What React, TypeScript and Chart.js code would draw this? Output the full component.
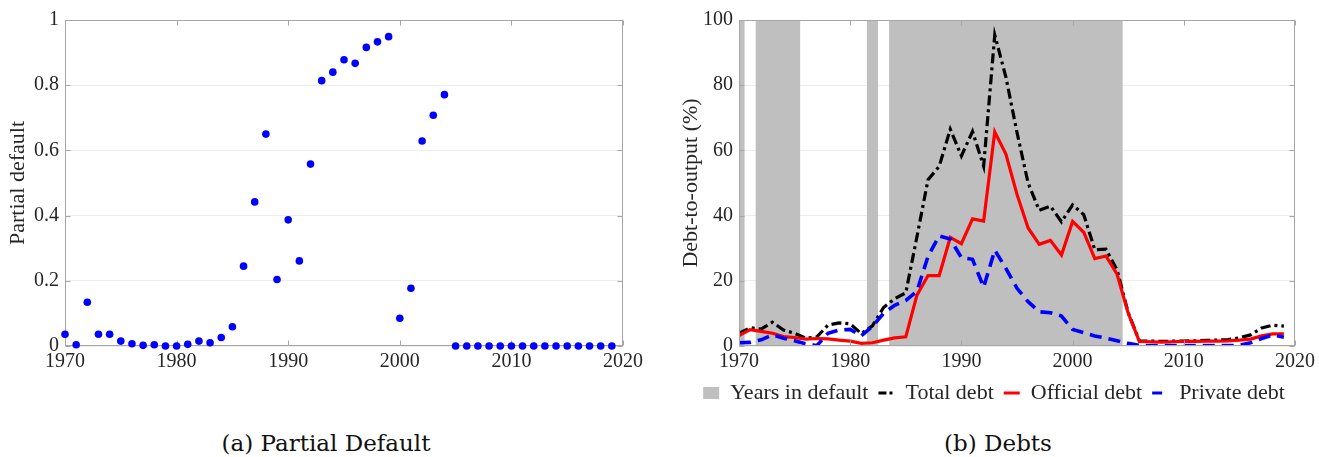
import React, { useEffect, useRef } from 'react';
import { Chart, registerables } from 'chart.js';

Chart.register(...registerables);

// ---------------- data ----------------
const YEARS = [
  1970, 1971, 1972, 1973, 1974, 1975, 1976, 1977, 1978, 1979,
  1980, 1981, 1982, 1983, 1984, 1985, 1986, 1987, 1988, 1989,
  1990, 1991, 1992, 1993, 1994, 1995, 1996, 1997, 1998, 1999,
  2000, 2001, 2002, 2003, 2004, 2005, 2006, 2007, 2008, 2009,
  2010, 2011, 2012, 2013, 2014, 2015, 2016, 2017, 2018, 2019,
];

const PARTIAL_DEFAULT = [
  0.036, 0.004, 0.134, 0.036, 0.036, 0.015, 0.007, 0.002, 0.004, 0.0,
  0.0, 0.005, 0.015, 0.01, 0.026, 0.059, 0.245, 0.442, 0.65, 0.204,
  0.387, 0.261, 0.558, 0.814, 0.84, 0.878, 0.867, 0.916, 0.933, 0.949,
  0.085, 0.177, 0.629, 0.708, 0.771, 0.0, 0.0, 0.0, 0.0, 0.0,
  0.0, 0.0, 0.0, 0.0, 0.0, 0.0, 0.0, 0.0, 0.0, 0.0,
];

const TOTAL_DEBT = [
  3.9, 5.6, 5.2, 7.3, 4.9, 3.9, 2.4, 2.8, 6.4, 7.1,
  6.8, 3.8, 6.2, 11.8, 14.5, 16.3, 33.5, 51.0, 55.1, 66.5,
  58.3, 65.8, 55.2, 95.4, 82.5, 65.5, 50.0, 41.6, 42.9, 38.1,
  43.3, 40.3, 29.5, 29.7, 23.3, 10.2, 1.6, 1.5, 1.4, 1.5,
  1.5, 1.6, 1.7, 1.8, 2.0, 2.5, 3.4, 5.5, 6.4, 6.1,
];

const OFFICIAL_DEBT = [
  3.2, 5.0, 4.5, 3.9, 2.9, 2.6, 2.1, 2.3, 2.2, 1.8,
  1.5, 0.8, 1.0, 1.8, 2.5, 2.8, 15.6, 21.6, 21.6, 33.3,
  31.4, 39.0, 38.3, 65.7, 58.9, 46.5, 36.2, 31.2, 32.4, 27.9,
  38.2, 34.9, 26.8, 27.6, 22.0, 10.1, 1.4, 1.3, 1.2, 1.3,
  1.4, 1.4, 1.5, 1.5, 1.6, 1.8, 2.1, 3.1, 3.7, 3.7,
];

const PRIVATE_DEBT = [
  1.0, 1.1, 1.9, 3.4, 2.4, 1.6, 0.7, 0.1, 3.9, 4.9,
  5.1, 3.1, 6.0, 10.0, 12.5, 14.0, 16.8, 27.5, 33.8, 32.8,
  27.1, 26.6, 18.0, 29.4, 23.8, 17.7, 13.6, 10.5, 10.2, 9.2,
  5.1, 4.1, 3.1, 2.4, 1.6, 0.8, 0.2, 0.1, 0.1, 0.1,
  0.1, 0.1, 0.1, 0.1, 0.1, 0.2, 1.0, 2.3, 3.4, 2.7,
];

const DEFAULT_YEARS = [
  1970, 1972, 1973, 1974, 1975, 1982,
  1984, 1985, 1986, 1987, 1988, 1989, 1990, 1991, 1992, 1993, 1994,
  1995, 1996, 1997, 1998, 1999, 2000, 2001, 2002, 2003, 2004,
];

const X_TICKS = [1970, 1980, 1990, 2000, 2010, 2020];
const PD_TICKS = [0, 0.2, 0.4, 0.6, 0.8, 1];
const DEBT_TICKS = [0, 20, 40, 60, 80, 100];

const PD_LABEL = 'Partial default';
const DEBT_LABEL = 'Debt-to-output (%)';
const LEGEND_LABELS = ['Years in default', 'Total debt', 'Official debt', 'Private debt'];
const CAPTION_A = '(a) Partial Default';
const CAPTION_B = '(b) Debts';

// ---------------- styles ----------------
const SERIF = "'Liberation Serif', 'Times New Roman', serif";
const TEXT_COLOR = '#262626';
const FRAME_COLOR = '#a6a6a6';
const GRID_COLOR = '#ededed';
const SHADE_COLOR = '#bfbfbf';

function framePlugin(id: string, onTop: boolean) {
  const draw = (chart: any) => {
    const { ctx, chartArea } = chart;
    const { left, right, top, bottom } = chartArea;
    const xs = chart.scales.x;
    const ys = chart.scales.y;
    ctx.save();
    ctx.strokeStyle = FRAME_COLOR;
    ctx.lineWidth = 1;
    ctx.setLineDash([]);
    const L = Math.round(left) + 0.5;
    const R = Math.round(right) - 0.5;
    const T = Math.round(top) + 0.5;
    const B = Math.round(bottom) - 0.5;
    ctx.strokeRect(L, T, R - L, B - T);
    const len = 5;
    ctx.beginPath();
    xs.ticks.forEach((t: any) => {
      const px = Math.round(xs.getPixelForValue(t.value)) + 0.5;
      ctx.moveTo(px, T);
      ctx.lineTo(px, T + len);
      ctx.moveTo(px, B);
      ctx.lineTo(px, B - len);
    });
    ys.ticks.forEach((t: any) => {
      const py = Math.round(ys.getPixelForValue(t.value)) + 0.5;
      ctx.moveTo(L, py);
      ctx.lineTo(L + len, py);
      ctx.moveTo(R, py);
      ctx.lineTo(R - len, py);
    });
    ctx.stroke();
    ctx.restore();
  };
  return onTop ? { id, afterDatasetsDraw: draw } : { id, beforeDatasetsDraw: draw };
}

const tickFont = { family: SERIF, size: 20 };
const titleFont = { family: SERIF, size: 22 };

function xScale(height: number) {
  return {
    type: 'linear' as const,
    min: 1970,
    max: 2020,
    afterBuildTicks: (axis: any) => {
      axis.ticks = X_TICKS.map((value) => ({ value }));
    },
    afterFit: (axis: any) => {
      axis.height = height;
    },
    grid: { display: false, drawTicks: false },
    border: { display: false },
    ticks: {
      font: tickFont,
      color: TEXT_COLOR,
      padding: 4,
      maxRotation: 0,
      autoSkip: false,
      callback: (v: any) => String(v),
    },
  };
}

function PartialDefaultChart() {
  const ref = useRef<HTMLCanvasElement>(null);
  useEffect(() => {
    const chart = new Chart(ref.current as HTMLCanvasElement, {
      type: 'scatter',
      data: {
        datasets: [
          {
            label: PD_LABEL,
            data: YEARS.map((yr, i) => ({ x: yr, y: PARTIAL_DEFAULT[i] })),
            backgroundColor: '#0000ff',
            borderColor: '#0000ff',
            pointRadius: 3.8,
            pointBorderWidth: 0,
            clip: false,
          } as any,
        ],
      },
      options: {
        animation: false,
        responsive: false,
        maintainAspectRatio: false,
        layout: { padding: { top: 20, right: 37, bottom: 0, left: 0 } },
        plugins: { legend: { display: false }, tooltip: { enabled: false } },
        scales: {
          x: xScale(34) as any,
          y: {
            type: 'linear',
            min: 0,
            max: 1,
            afterBuildTicks: (axis: any) => {
              axis.ticks = PD_TICKS.map((value) => ({ value }));
            },
            afterFit: (axis: any) => {
              axis.width = 65;
            },
            grid: { color: GRID_COLOR, drawTicks: false, lineWidth: 1 },
            border: { display: false },
            ticks: {
              font: tickFont,
              color: TEXT_COLOR,
              padding: 6,
              callback: (v: any) => String(Math.round(Number(v) * 10) / 10),
            },
            title: {
              display: true,
              text: PD_LABEL,
              font: titleFont,
              color: TEXT_COLOR,
              padding: { top: 5, bottom: 0 },
            },
          } as any,
        },
      },
      plugins: [framePlugin('frameA', false) as any],
    });
    return () => chart.destroy();
  }, []);
  return (
    <canvas
      ref={ref}
      width={660}
      height={380}
      style={{ position: 'absolute', left: 0, top: 0, width: 660, height: 380 }}
    />
  );
}

function DebtsChart() {
  const ref = useRef<HTMLCanvasElement>(null);
  useEffect(() => {
    const shadeTop = DEBT_TICKS[DEBT_TICKS.length - 1];
    const legendItems = [
      { text: LEGEND_LABELS[0], fillStyle: SHADE_COLOR, strokeStyle: SHADE_COLOR, lineWidth: 0, lineDash: [], pointStyle: 'rect' },
      { text: LEGEND_LABELS[1], fillStyle: '#000', strokeStyle: '#000', lineWidth: 3, lineDash: [8, 3, 3, 3], pointStyle: 'line' },
      { text: LEGEND_LABELS[2], fillStyle: '#ff0000', strokeStyle: '#ff0000', lineWidth: 3, lineDash: [], pointStyle: 'line' },
      { text: LEGEND_LABELS[3], fillStyle: '#0000ff', strokeStyle: '#0000ff', lineWidth: 3, lineDash: [10, 16], pointStyle: 'line' },
    ];
    const chart = new Chart(ref.current as HTMLCanvasElement, {
      type: 'line',
      data: {
        datasets: [
          {
            label: LEGEND_LABELS[0],
            data: YEARS.map((yr) => ({ x: yr, y: DEFAULT_YEARS.includes(yr) ? shadeTop : 0 })),
            stepped: 'middle',
            fill: 'origin',
            backgroundColor: SHADE_COLOR,
            borderColor: 'rgba(0,0,0,0)',
            borderWidth: 0,
            pointRadius: 0,
            order: 4,
          },
          {
            label: LEGEND_LABELS[1],
            data: YEARS.map((yr, i) => ({ x: yr, y: TOTAL_DEBT[i] })),
            borderColor: '#000000',
            borderWidth: 3.2,
            borderDash: [10, 4, 3, 4],
            pointRadius: 0,
            fill: false,
            order: 3,
          },
          {
            label: LEGEND_LABELS[2],
            data: YEARS.map((yr, i) => ({ x: yr, y: OFFICIAL_DEBT[i] })),
            borderColor: '#ff0000',
            borderWidth: 3.2,
            pointRadius: 0,
            fill: false,
            order: 2,
          },
          {
            label: LEGEND_LABELS[3],
            data: YEARS.map((yr, i) => ({ x: yr, y: PRIVATE_DEBT[i] })),
            borderColor: '#0000ff',
            borderWidth: 3.6,
            borderDash: [12, 7],
            pointRadius: 0,
            fill: false,
            order: 1,
          },
        ] as any,
      },
      options: {
        animation: false,
        responsive: false,
        maintainAspectRatio: false,
        layout: { padding: { top: 20, right: 22, bottom: 1, left: 26 } },
        plugins: {
          tooltip: { enabled: false },
          legend: {
            display: true,
            position: 'bottom',
            onClick: () => {},
            labels: {
              usePointStyle: true,
              pointStyleWidth: 16,
              boxHeight: 12,
              padding: 10,
              font: { family: SERIF, size: 22 },
              color: TEXT_COLOR,
              generateLabels: () =>
                legendItems.map((it, i) => ({
                  ...it,
                  hidden: false,
                  datasetIndex: i,
                  fontColor: TEXT_COLOR,
                })) as any,
            },
          },
        },
        scales: {
          x: xScale(26) as any,
          y: {
            type: 'linear',
            min: 0,
            max: 100,
            afterBuildTicks: (axis: any) => {
              axis.ticks = DEBT_TICKS.map((value) => ({ value }));
            },
            afterFit: (axis: any) => {
              axis.width = 48;
            },
            grid: { color: GRID_COLOR, drawTicks: false, lineWidth: 1 },
            border: { display: false },
            ticks: {
              font: tickFont,
              color: TEXT_COLOR,
              padding: 6,
              callback: (v: any) => String(v),
            },
            title: {
              display: true,
              text: DEBT_LABEL,
              font: titleFont,
              color: TEXT_COLOR,
              padding: { top: -13, bottom: 0 },
            },
          } as any,
        },
      },
      plugins: [framePlugin('frameB', true) as any],
    });
    return () => chart.destroy();
  }, []);
  return (
    <canvas
      ref={ref}
      width={654}
      height={415}
      style={{ position: 'absolute', left: 665, top: 0, width: 654, height: 415 }}
    />
  );
}

const captionStyle: React.CSSProperties = {
  position: 'absolute',
  width: 400,
  textAlign: 'center',
  fontFamily: "'DejaVu Serif', serif",
  fontSize: 23,
  lineHeight: '23px',
  color: '#111',
  whiteSpace: 'nowrap',
};

export default function App() {
  useEffect(() => {
    document.body.style.margin = '0';
    document.body.style.overflow = 'hidden';
  }, []);
  return (
    <div
      style={{
        position: 'absolute',
        left: 0,
        top: 0,
        width: 1319,
        height: 457,
        overflow: 'hidden',
        background: '#ffffff',
      }}
    >
      <PartialDefaultChart />
      <DebtsChart />
      <div style={{ ...captionStyle, left: 326 - 200, top: 432 }}>{CAPTION_A}</div>
      <div style={{ ...captionStyle, left: 998 - 200, top: 432 }}>{CAPTION_B}</div>
    </div>
  );
}
